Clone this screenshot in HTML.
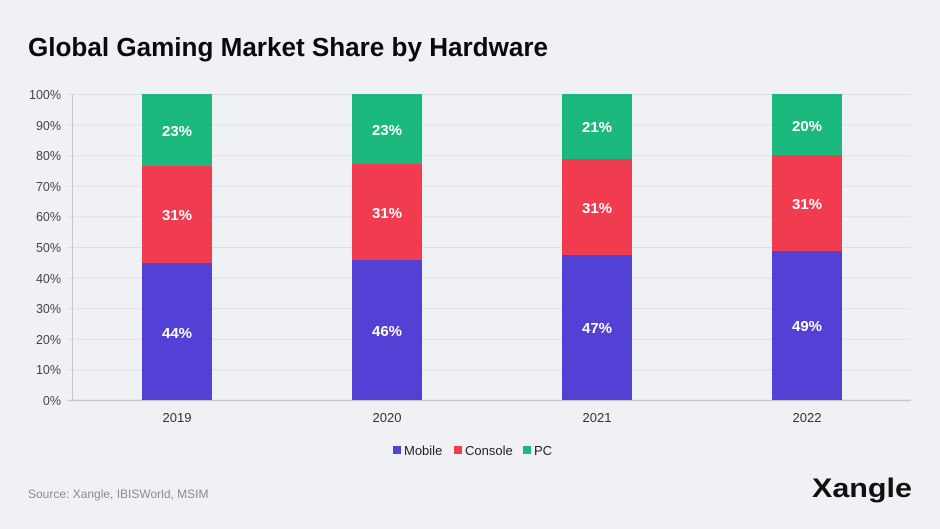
<!DOCTYPE html>
<html><head><meta charset="utf-8"><style>
html,body{margin:0;padding:0;background:#f0f1f5;}
svg{display:block;font-family:"Liberation Sans",sans-serif;}
</style></head><body>
<svg width="940" height="529" viewBox="0 0 940 529">
<rect width="940" height="529" fill="#f0f1f5"/>
<text x="28" y="56" font-size="25.5" font-weight="bold" fill="#0a0a0a" textLength="520" lengthAdjust="spacingAndGlyphs">Global Gaming Market Share by Hardware</text>
<g stroke="#dfe0e6" stroke-width="1">
<line x1="68" y1="94.5" x2="911" y2="94.5"/><line x1="68" y1="125.1" x2="911" y2="125.1"/>
<line x1="68" y1="155.7" x2="911" y2="155.7"/><line x1="68" y1="186.3" x2="911" y2="186.3"/>
<line x1="68" y1="216.9" x2="911" y2="216.9"/><line x1="68" y1="247.5" x2="911" y2="247.5"/>
<line x1="68" y1="278.1" x2="911" y2="278.1"/><line x1="68" y1="308.7" x2="911" y2="308.7"/>
<line x1="68" y1="339.3" x2="911" y2="339.3"/><line x1="68" y1="369.9" x2="911" y2="369.9"/>
</g>
<line x1="72.5" y1="94" x2="72.5" y2="400" stroke="#c8c9cf"/>
<line x1="68" y1="400.5" x2="911" y2="400.5" stroke="#c8c9cf" stroke-width="1.5"/>
<g font-size="12.5" fill="#444" text-anchor="end">
<text x="61" y="99">100%</text><text x="61" y="130">90%</text><text x="61" y="160">80%</text>
<text x="61" y="191">70%</text><text x="61" y="221">60%</text><text x="61" y="252">50%</text>
<text x="61" y="283">40%</text><text x="61" y="313">30%</text><text x="61" y="344">20%</text>
<text x="61" y="374">10%</text><text x="61" y="405">0%</text>
</g>
<g>
<rect x="142" y="94" width="70" height="72" fill="#1bb97e"/><rect x="142" y="166" width="70" height="97" fill="#f13c50"/><rect x="142" y="263" width="70" height="137" fill="#5341d6"/>
<rect x="352" y="94" width="70" height="70" fill="#1bb97e"/><rect x="352" y="164" width="70" height="96" fill="#f13c50"/><rect x="352" y="260" width="70" height="140" fill="#5341d6"/>
<rect x="562" y="94" width="70" height="65" fill="#1bb97e"/><rect x="562" y="159" width="70" height="96" fill="#f13c50"/><rect x="562" y="255" width="70" height="145" fill="#5341d6"/>
<rect x="772" y="94" width="70" height="61" fill="#1bb97e"/><rect x="772" y="155" width="70" height="96" fill="#f13c50"/><rect x="772" y="251" width="70" height="149" fill="#5341d6"/>
</g>
<g font-size="15" font-weight="bold" fill="#fff" text-anchor="middle">
<text x="177" y="136">23%</text><text x="177" y="220">31%</text><text x="177" y="338">44%</text>
<text x="387" y="135">23%</text><text x="387" y="218">31%</text><text x="387" y="336">46%</text>
<text x="597" y="132">21%</text><text x="597" y="213">31%</text><text x="597" y="333">47%</text>
<text x="807" y="131">20%</text><text x="807" y="209">31%</text><text x="807" y="331">49%</text>
</g>
<g font-size="13" fill="#333" text-anchor="middle">
<text x="177" y="422">2019</text><text x="387" y="422">2020</text><text x="597" y="422">2021</text><text x="807" y="422">2022</text>
</g>
<g font-size="13" fill="#222">
<rect x="393" y="446" width="8" height="8" fill="#5341d6"/><text x="404" y="455">Mobile</text>
<rect x="454" y="446" width="8" height="8" fill="#f13c50"/><text x="465" y="455">Console</text>
<rect x="523" y="446" width="8" height="8" fill="#1bb97e"/><text x="534" y="455">PC</text>
</g>
<text x="28" y="498" font-size="12" fill="#8a8c94">Source: Xangle, IBISWorld, MSIM</text>
<text x="912" y="497" font-size="27" font-weight="bold" fill="#111" text-anchor="end" textLength="100" lengthAdjust="spacingAndGlyphs">Xangle</text>
</svg>
</body></html>
